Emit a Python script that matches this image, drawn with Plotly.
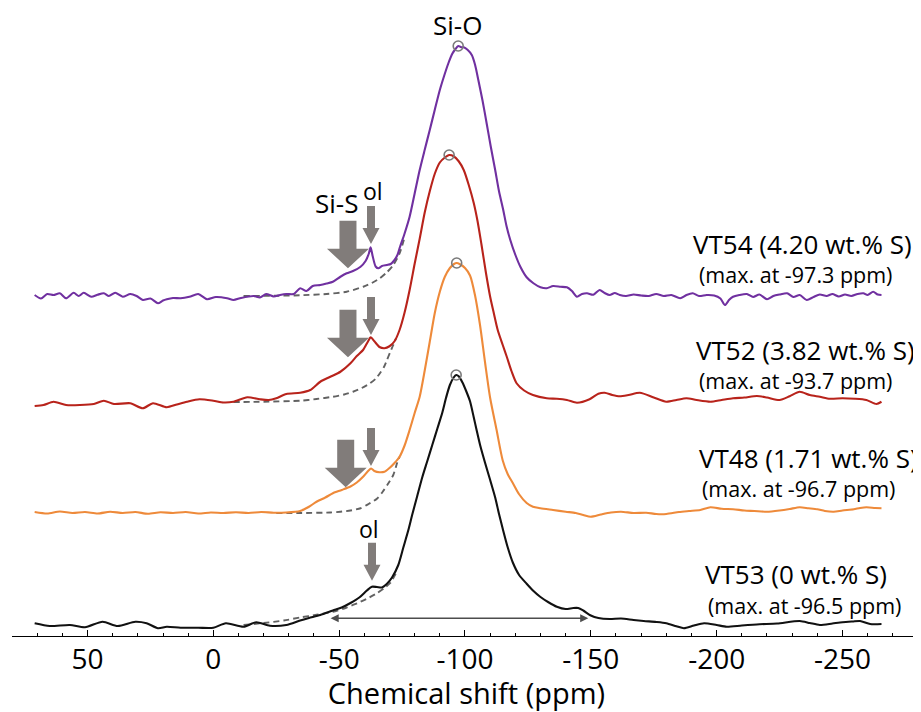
import plotly.graph_objects as go

# ---------------- data ----------------
# VT53 (0 wt.% S)
ppm_vt53 = [71, 65, 57, 51, 44, 38, 31, 26.5, 22, 18.5, 13, 6, 0, -5, -12, -17, -22.5, -29, -34.5, -38,
            -42.5, -47.5, -51, -54.5, -58, -61, -63, -65, -67, -69, -71, -73.5, -75.5, -77.5, -79, -81, -83, -85, -87, -89,
            -91, -92.5, -94, -95.5, -96.5, -97.5, -99, -100.5, -102, -103.5, -104.5, -106, -108, -110, -112, -113.5, -115, -117, -119, -121.5,
            -124.5, -127, -130, -133, -136.5, -140, -143, -145, -147, -150, -153, -157.5, -162, -167, -171, -176, -180, -184, -187, -191,
            -195, -200, -204, -210, -217, -224, -233, -237, -241, -246, -250, -254, -257, -261, -265.5]
int_vt53 = [0.007, -0.004, 0.0, -0.009, 0.013, -0.004, 0.013, 0.007, -0.013, -0.007,
            -0.011, -0.011, -0.011, 0.007, -0.007, 0.011, -0.003, 0.0, 0.018, 0.028,
            0.04, 0.058, 0.07, 0.088, 0.11, 0.138, 0.153, 0.152, 0.15, 0.165,
            0.19, 0.24, 0.31, 0.38, 0.44, 0.515, 0.59, 0.655, 0.72, 0.785,
            0.85, 0.91, 0.96, 0.99, 1.0, 0.995, 0.97, 0.935, 0.895, 0.83,
            0.785, 0.72, 0.648, 0.58, 0.51, 0.445, 0.385, 0.31, 0.25, 0.2,
            0.165, 0.138, 0.112, 0.092, 0.073, 0.064, 0.068, 0.068, 0.058, 0.038,
            0.028, 0.024, 0.026, 0.02, 0.016, 0.012, 0.007, -0.005, -0.013, -0.002,
            0.007, 0.0, -0.007, -0.002, 0.003, 0.006, 0.016, 0.008, 0.0, 0.006,
            0.011, 0.014, 0.016, 0.004, 0.004]

# VT48 (1.71 wt.% S)
ppm_vt48 = [71, 66, 61, 56, 51, 46, 41, 36, 31, 26, 21, 16, 11, 6, 1, -4, -9, -14, -19, -24,
            -29, -34.5, -38, -41, -44.5, -47.5, -51, -54.5, -57, -59.5, -61.5, -62.7, -64, -66, -68, -70, -72, -74, -76, -78,
            -80, -82, -84, -86, -88, -90, -92, -94, -95.5, -96.7, -98, -100, -102, -104, -106, -108, -110, -112.5, -115, -117,
            -119, -121.5, -124.5, -127, -130, -135, -140, -144, -147, -150, -154, -158, -162, -167, -172, -176, -180, -185, -189, -193.5,
            -197.5, -202, -206.5, -211, -215, -220, -225, -229, -233, -236.5, -240, -243, -246.5, -250, -254.5, -257, -259.5, -263, -265.5]
int_vt48 = [0.004, -0.002, 0.006, 0.0, 0.004, -0.002, 0.005, 0.0, 0.004, -0.003,
            0.003, 0.0, 0.004, -0.002, 0.002, 0.0, 0.003, 0.0, 0.004, 0.001,
            0.002, 0.008, 0.025, 0.045, 0.062, 0.079, 0.092, 0.106, 0.122, 0.145,
            0.168, 0.178, 0.168, 0.163, 0.165, 0.18, 0.2, 0.225, 0.27, 0.332,
            0.4, 0.465, 0.57, 0.685, 0.8, 0.885, 0.945, 0.98, 0.995, 1.0,
            0.995, 0.98, 0.95, 0.87, 0.75, 0.6, 0.46, 0.335, 0.21, 0.155,
            0.12, 0.075, 0.04, 0.025, 0.019, 0.012, 0.005, 0.0, -0.008, -0.015,
            -0.006, 0.002, 0.005, 0.0, 0.001, -0.004, -0.004, 0.004, 0.008, 0.012,
            0.023, 0.017, 0.015, 0.01, 0.008, 0.005, 0.01, 0.016, 0.023, 0.019,
            0.015, 0.008, 0.005, 0.01, 0.015, 0.02, 0.023, 0.02, 0.019]

# VT52 (3.82 wt.% S)
ppm_vt52 = [71, 67.5, 63.5, 58.5, 53, 47.5, 43.5, 39.5, 33, 28, 24, 18.5, 14.5, 10.5, 5.5, 0, -4, -8, -13.5, -18.5,
            -22, -25, -29, -34.5, -38.5, -42.5, -46.5, -50.5, -54.5, -57, -59.5, -61.5, -62.5, -64, -66, -68, -70, -72, -74, -76,
            -78, -80, -82, -84, -86, -88, -90, -92, -93.7, -95.5, -97.5, -99.5, -101.5, -103.5, -105, -106.5, -108.3, -110, -111.5, -113,
            -115, -116.6, -118.5, -120.5, -123.5, -127, -132.5, -136.5, -140.5, -144.5, -149.5, -153, -155.5, -158.5, -161.5, -165, -169.5, -175, -180, -184,
            -188, -192, -197.5, -202, -206.5, -211, -216, -220, -225, -229, -233, -237, -241, -245, -250, -255, -259.5, -263.5, -265.5]
int_vt52 = [-0.004, 0.0, 0.013, 0.0, 0.0, 0.004, 0.017, 0.004, 0.007, -0.013,
            0.007, -0.009, 0.002, 0.013, 0.023, 0.017, 0.01, 0.013, 0.031, 0.023,
            0.02, 0.027, 0.044, 0.049, 0.06, 0.093, 0.113, 0.133, 0.167, 0.196,
            0.22, 0.255, 0.271, 0.255, 0.232, 0.227, 0.235, 0.255, 0.3, 0.37,
            0.46, 0.565, 0.665, 0.77, 0.855, 0.925, 0.97, 0.99, 1.0, 0.995,
            0.975, 0.94, 0.88, 0.807, 0.735, 0.645, 0.53, 0.433, 0.365, 0.3,
            0.24, 0.193, 0.135, 0.087, 0.058, 0.04, 0.027, 0.025, 0.02, 0.009,
            0.023, 0.045, 0.049, 0.04, 0.035, 0.04, 0.049, 0.03, 0.013, 0.02,
            0.027, 0.02, 0.013, 0.02, 0.027, 0.03, 0.036, 0.03, 0.02, 0.035,
            0.053, 0.04, 0.033, 0.025, 0.027, 0.025, 0.02, 0.004, 0.013]

# VT54 (4.20 wt.% S)
ppm_vt54 = [71, 68.5, 66, 63.5, 61, 58.5, 55.5, 53.5, 51.5, 48.5, 46, 43.5, 41.5, 39, 36, 33, 30.5, 28, 25, 22,
            20, 18.5, 16, 13, 9.5, 6, 2.5, -1, -5.5, -8, -11, -16, -18.5, -21, -24, -26.5, -29, -32, -34.5, -37,
            -39.5, -42.5, -45, -47.5, -50.5, -53, -55.5, -58.5, -60.5, -61.8, -62.5, -63.3, -64.5, -65.6, -67, -69, -70.5, -72, -73.2, -74.2,
            -76, -78, -80, -82, -84, -86, -88, -90, -91.7, -93.4, -95, -96, -97.3, -98.5, -99.5, -101, -102.7, -104, -105.3, -107,
            -108.6, -110.2, -112, -113.5, -115.2, -116.5, -118, -120, -122, -124.5, -127.2, -130, -132.5, -135, -138, -140.5, -142.5, -144.5, -146.5, -148.5,
            -151, -153.5, -155.5, -157.5, -159.5, -161.5, -164, -167, -170, -173, -176, -179, -182, -185.5, -188, -190.5, -193, -196, -199, -201.5,
            -203.3, -205, -206.5, -209, -212, -214.5, -217, -220, -222.5, -225, -228, -230.5, -233, -235.8, -238.5, -241, -243.7, -246, -248.5, -251,
            -253.5, -256, -258.3, -260, -262.2, -264, -265.5]
int_vt54 = [0.004, -0.01, 0.008, 0.004, 0.011, -0.009, 0.013, 0.0, 0.013, -0.003,
            0.005, 0.011, 0.0, 0.013, -0.003, 0.008, 0.0, -0.016, -0.01, -0.029,
            -0.018, -0.013, -0.008, -0.009, -0.003, 0.008, -0.013, -0.004, -0.009, -0.016,
            -0.008, 0.0, -0.006, 0.008, -0.002, 0.004, 0.008, 0.008, 0.031, 0.02,
            0.04, 0.044, 0.05, 0.057, 0.077, 0.091, 0.1, 0.117, 0.14, 0.17,
            0.195, 0.16, 0.118, 0.111, 0.12, 0.124, 0.128, 0.144, 0.165, 0.197,
            0.25, 0.317, 0.41, 0.504, 0.585, 0.664, 0.745, 0.824, 0.88, 0.931,
            0.97, 0.985, 1.0, 0.995, 0.995, 0.985, 0.964, 0.925, 0.864, 0.78,
            0.691, 0.6, 0.504, 0.42, 0.344, 0.28, 0.224, 0.165, 0.117, 0.075,
            0.051, 0.035, 0.031, 0.04, 0.037, 0.035, 0.02, -0.003, 0.008, 0.011,
            0.005, 0.024, 0.012, 0.004, 0.012, 0.004, 0.0, 0.006, 0.002, 0.0,
            0.008, 0.0, 0.004, -0.009, 0.004, 0.011, 0.0, 0.004, 0.002, -0.01,
            -0.036, -0.015, -0.003, 0.004, 0.008, -0.004, 0.006, -0.013, 0.0, 0.006,
            0.011, -0.004, 0.004, -0.016, -0.004, 0.006, 0.0, 0.008, -0.002, 0.006,
            0.0, 0.008, 0.011, 0.004, 0.017, 0.006, 0.004]

# fitted Si-O component tails (dashed)
fit_ppm_vt54 = [-12, -25, -35, -45, -53, -59.6, -63, -66.2, -69, -71.5, -74, -76]
fit_int_vt54 = [0.0, 0.001, 0.003, 0.008, 0.017, 0.037, 0.052, 0.071, 0.095, 0.124, 0.17, 0.235]
fit_ppm_vt52 = [-8, -20, -34.5, -41, -47.5, -52, -55.5, -59, -62.3, -64.5, -66.2, -67.7, -69, -70.2, -71.5, -72.5]
fit_int_vt52 = [0.012, 0.013, 0.017, 0.024, 0.033, 0.042, 0.053, 0.068, 0.087, 0.105, 0.127, 0.15, 0.18, 0.21, 0.24, 0.265]
fit_ppm_vt48 = [-25, -34.5, -46.5, -50.5, -54.5, -58.5, -61.5, -65, -67.3, -69.3, -71.5, -73, -74]
fit_int_vt48 = [0.0, 0.0, 0.002, 0.005, 0.01, 0.019, 0.035, 0.057, 0.085, 0.115, 0.152, 0.199, 0.225]
fit_ppm_vt53 = [-12, -20, -28, -34.5, -41, -47.5, -53, -58.5, -62, -65, -67.7, -70.2, -73]
fit_int_vt53 = [0.0, 0.008, 0.018, 0.03, 0.041, 0.053, 0.07, 0.093, 0.11, 0.127, 0.146, 0.167, 0.215]

sample_names = ["VT54 (4.20 wt.% S)", "VT52 (3.82 wt.% S)", "VT48 (1.71 wt.% S)", "VT53 (0 wt.% S)"]
peak_ppm = [-97.3, -93.7, -96.7, -96.5]
peak_int = [1.0, 1.0, 1.0, 1.0]
stack_offset = [1.316, 0.88, 0.448, 0.0]

tick_vals = [50, 0, -50, -100, -150, -200, -250]
tick_text = ["50", "0", "-50", "-100", "-150", "-200", "-250"]

# ---------------- styling / layout ----------------
# (the page body has an 8px default margin, so the figure is sized to fit inside it)
FONT = "Open Sans"
W, H = 913, 704
MARGIN = dict(l=4, r=0, t=0, b=76)
X_RANGE = [80, -281.2]
Y_RANGE = [-0.044, 2.468]
PX_PER_PPM = (W - MARGIN["l"] - MARGIN["r"]) / (X_RANGE[0] - X_RANGE[1])
PX_PER_UNIT = (H - MARGIN["t"] - MARGIN["b"]) / (Y_RANGE[1] - Y_RANGE[0])

colors = ["#7030A0", "#B8231B", "#EE8A3A", "#111111"]
ARROW_GREY = "#817c7a"

spectra = [(ppm_vt54, int_vt54, fit_ppm_vt54, fit_int_vt54),
           (ppm_vt52, int_vt52, fit_ppm_vt52, fit_int_vt52),
           (ppm_vt48, int_vt48, fit_ppm_vt48, fit_int_vt48),
           (ppm_vt53, int_vt53, fit_ppm_vt53, fit_int_vt53)]

fig = go.Figure()
for i, (px, py, fx, fy) in enumerate(spectra):
    off = stack_offset[i]
    fig.add_trace(go.Scatter(x=fx, y=[v + off for v in fy], mode="lines",
                             line=dict(color="#626262", width=1.9, dash="6px,4px", shape="spline", smoothing=0.6),
                             hoverinfo="skip", showlegend=False))
for i, (px, py, fx, fy) in enumerate(spectra):
    off = stack_offset[i]
    fig.add_trace(go.Scatter(x=px, y=[v + off for v in py], mode="lines", name=sample_names[i],
                             line=dict(color=colors[i], width=2.1, shape="spline", smoothing=0.7),
                             showlegend=False))
fig.add_trace(go.Scatter(x=peak_ppm, y=[p + o for p, o in zip(peak_int, stack_offset)], mode="markers",
                         marker=dict(symbol="circle-open", size=10, color="#7a7a7a", line=dict(width=1.6, color="#7a7a7a")),
                         showlegend=False, hoverinfo="skip"))

# block arrows (annotation glyphs), sizes in pixels
def arrow_path(tip_x, tip_y, shaft_hw, shaft_len, head_hw, head_len):
    sx = shaft_hw / PX_PER_PPM
    hx = head_hw / PX_PER_PPM
    hb = tip_y + head_len / PX_PER_UNIT
    st = hb + shaft_len / PX_PER_UNIT
    pts = [(tip_x - sx, st), (tip_x - sx, hb), (tip_x - hx, hb), (tip_x, tip_y),
           (tip_x + hx, hb), (tip_x + sx, hb), (tip_x + sx, st)]
    return "M " + " L ".join(f"{x:.3f},{y:.4f}" for x, y in pts) + " Z"

big_arrow_tips = [(-53.5, 1.427), (-53.5, 1.071), (-52.6, 0.551)]
thin_arrow_tips = [(-62.65, 1.524), (-62.65, 1.160), (-62.65, 0.636), (-63.05, 0.177)]
shapes = []
for tx, ty in big_arrow_tips:
    shapes.append(dict(type="path", xref="x", yref="y", path=arrow_path(tx, ty, 8.5, 28, 21, 19.5),
                       fillcolor=ARROW_GREY, line=dict(width=0)))
for tx, ty in thin_arrow_tips:
    shapes.append(dict(type="path", xref="x", yref="y", path=arrow_path(tx, ty, 4, 22, 8.5, 16),
                       fillcolor=ARROW_GREY, line=dict(width=0)))

annotations = []
def txt(x, y, s, size):
    annotations.append(dict(x=x, y=y, xref="x", yref="y", text=s, showarrow=False,
                            xanchor="center", yanchor="middle",
                            font=dict(family=FONT, size=size, color="black")))

max_labels = [f"(max. at {p} ppm)" for p in peak_ppm]
name_pos = [(-234.3, 1.526), (-235.5, 1.102), (-236.3, 0.670), (-231.6, 0.203)]
max_pos = [(-231.5, 1.404), (-231.5, 0.978), (-232.7, 0.546), (-235.0, 0.080)]
for i in range(4):
    txt(name_pos[i][0], name_pos[i][1], sample_names[i], 26)
    txt(max_pos[i][0], max_pos[i][1], max_labels[i], 21.5)

txt(-97.2, 2.40, "Si-O", 26)
txt(-49.0, 1.688, "Si-S", 26)
txt(-63.6, 1.735, "ol", 23)
txt(-61.9, 0.385, "ol", 23)

# double-headed width arrow
annotations.append(dict(x=-149, y=0.027, ax=-46, ay=0.027, xref="x", yref="y", axref="x", ayref="y",
                        text="", showarrow=True, arrowside="end+start", arrowhead=2, startarrowhead=2,
                        arrowsize=1.25, startarrowsize=1.25, arrowwidth=1.3, arrowcolor="#4d4d4d"))

fig.update_layout(
    width=W, height=H, margin=MARGIN, paper_bgcolor="white", plot_bgcolor="white",
    showlegend=False, shapes=shapes, annotations=annotations,
    xaxis=dict(range=X_RANGE, tickmode="array", tickvals=tick_vals, ticktext=tick_text,
               ticks="inside", ticklen=6, tickwidth=1, tickcolor="black",
               minor=dict(tickmode="linear", tick0=0, dtick=10, ticks="inside", ticklen=3.5, tickwidth=1,
                          tickcolor="black", showgrid=False),
               showline=True, linecolor="black", linewidth=1, showgrid=False, zeroline=False,
               tickfont=dict(family=FONT, size=28, color="black"), ticklabelstandoff=-2,
               title=dict(text="Chemical shift (ppm)", font=dict(family=FONT, size=29, color="black"), standoff=8),
               automargin=False),
    yaxis=dict(range=Y_RANGE, visible=False, showgrid=False, zeroline=False),
)

fig.write_html("out.html")
